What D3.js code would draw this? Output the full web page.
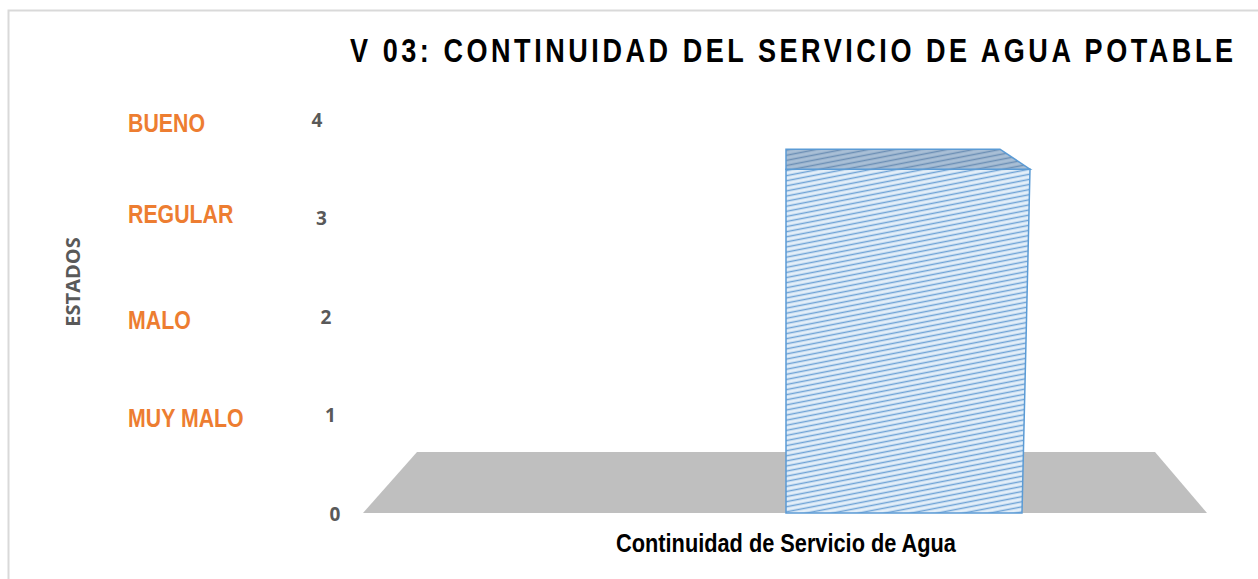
<!DOCTYPE html>
<html>
<head>
<meta charset="utf-8">
<script src="https://cdn.jsdelivr.net/npm/d3@7"></script>
<style>
  body { margin: 0; background: #fff; }
</style>
</head>
<body>
<svg id="chart" width="1258" height="579"></svg>
<script>
// datos del gráfico
const categories = ["Continuidad de Servicio de Agua"];
const values = [3.5];
const tickValues = [0, 1, 2, 3, 4];
const estados = ["MUY MALO", "MALO", "REGULAR", "BUENO"];
const estadoValues = [1, 2, 3, 4];

const svg = d3.select("#chart");

// borde del área del gráfico
svg.append("path")
  .attr("d", "M8.5,579V10.5H1258")
  .attr("fill", "none")
  .attr("stroke", "#d9d9d9")
  .attr("stroke-width", 2);

const yScale = d3.scaleLinear().domain([0, 4]).range([514, 120]);
// los números del eje se inclinan por la perspectiva 3D
const tickX = d3.scaleLinear().domain([0, 4]).range([335, 317]);
const xScale = d3.scaleBand().domain(categories).range([786, 1022]).padding(0);

// patrón de rayas diagonales
const defs = svg.append("defs");
function hatch(id, bg, line) {
  const p = defs.append("pattern")
    .attr("id", id)
    .attr("patternUnits", "userSpaceOnUse")
    .attr("width", 40)
    .attr("height", 5)
    .attr("patternTransform", "rotate(-11)");
  p.append("rect").attr("width", 40).attr("height", 5).attr("fill", bg);
  p.append("line")
    .attr("x1", 0).attr("x2", 40)
    .attr("y1", 2.5).attr("y2", 2.5)
    .attr("stroke", line)
    .attr("stroke-width", 1.3);
}
hatch("hatchFront", "#e4eff9", "#6fa3d6");
hatch("hatchTop", "#a9bfd6", "#6c8fb5");

// piso gris
const floorFront = yScale(0) - 1, floorBack = floorFront - 61;
svg.append("polygon")
  .attr("points", [
    [363, floorFront], [1207, floorFront], [1155, floorBack], [417, floorBack]
  ].map((p) => p.join(",")).join(" "))
  .attr("fill", "#bfbfbf");

// barra 3D
const bars = svg.selectAll(".bar")
  .data(categories.map((c, i) => ({ cat: c, val: values[i] })))
  .enter()
  .append("g")
  .attr("class", "bar");

bars.append("polygon")
  .attr("points", (d) => {
    const x0 = xScale(d.cat), x1 = x0 + xScale.bandwidth();
    const yt = yScale(d.val), yb = floorFront;
    return [[x0, yt], [x1 + 8, yt], [x1, yb], [x0, yb]].map((p) => p.join(",")).join(" ");
  })
  .attr("fill", "url(#hatchFront)")
  .attr("stroke", "#5b9bd5")
  .attr("stroke-width", 1.5);

bars.append("polygon")
  .attr("points", (d) => {
    const x0 = xScale(d.cat), x1 = x0 + xScale.bandwidth();
    const yt = yScale(d.val);
    return [[x0, yt - 20], [x1 - 22, yt - 20], [x1 + 8, yt], [x0, yt]].map((p) => p.join(",")).join(" ");
  })
  .attr("fill", "url(#hatchTop)")
  .attr("stroke", "#5b9bd5")
  .attr("stroke-width", 1.5);

// números del eje Y
svg.selectAll(".tick-label")
  .data(tickValues)
  .enter()
  .append("text")
  .attr("class", "tick-label")
  .attr("x", (d) => tickX(d))
  .attr("y", (d) => yScale(d))
  .attr("dy", "0.35em")
  .attr("text-anchor", "middle")
  .style("font-family", "'Open Sans', sans-serif")
  .style("font-weight", "bold")
  .style("font-size", "19px")
  .style("fill", "#595959")
  .text((d) => d);

// etiquetas de estados
svg.selectAll(".estado")
  .data(estados)
  .enter()
  .append("text")
  .attr("class", "estado")
  .attr("transform", (d, i) => `translate(128,${yScale(estadoValues[i]) + (i === 2 ? -5 : 2)}) scale(0.82,1)`)
  .attr("dy", "0.38em")
  .style("font-family", "'Liberation Sans', Arial, sans-serif")
  .style("font-weight", "bold")
  .style("font-size", "26px")
  .style("fill", "#ed7d31")
  .text((d) => d);

// título del eje Y
svg.append("text")
  .attr("transform", "translate(80,282) rotate(-90)")
  .attr("text-anchor", "middle")
  .style("font-family", "'Open Sans', sans-serif")
  .style("font-weight", "bold")
  .style("font-size", "20px")
  .style("fill", "#595959")
  .text("ESTADOS");

// título (letras estrechas y espaciadas)
svg.append("text")
  .attr("transform", "translate(350,62) scale(0.82,1)")
  .attr("textLength", 883 / 0.82)
  .attr("lengthAdjust", "spacing")
  .style("font-family", "'Liberation Sans', Arial, sans-serif")
  .style("font-weight", "bold")
  .style("font-size", "33px")
  .style("fill", "#000")
  .text("V 03: CONTINUIDAD DEL SERVICIO DE AGUA POTABLE");

// etiqueta del eje X
svg.append("text")
  .attr("transform", "translate(786,552) scale(0.87,1)")
  .attr("text-anchor", "middle")
  .style("font-family", "'Liberation Sans', Arial, sans-serif")
  .style("font-weight", "bold")
  .style("font-size", "25px")
  .style("fill", "#000")
  .text(categories[0]);
</script>
</body>
</html>
